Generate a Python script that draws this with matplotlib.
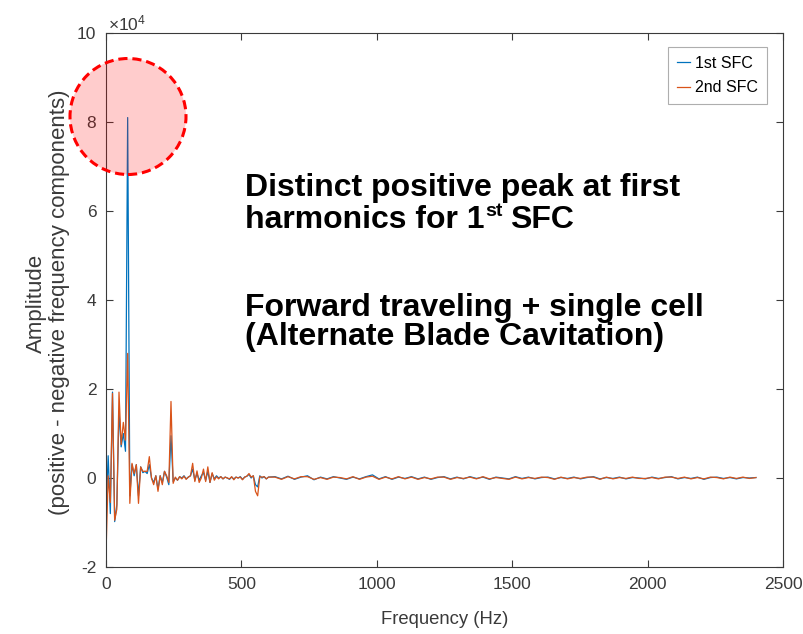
import numpy as np
import matplotlib
matplotlib.use("Agg")
import matplotlib.pyplot as plt
from matplotlib.patches import Circle

plt.rcParams['font.family'] = ['Liberation Sans', 'DejaVu Sans']
plt.rcParams['mathtext.fontset'] = 'custom'
plt.rcParams['mathtext.rm'] = 'Liberation Sans'

# ---- data (amplitude in units of 1e4) ----
low_step = 8      # Hz, low-frequency band 0..600 Hz
sfc1_low = [-0.75, 0.50, -0.80, 1.93, -0.98, -0.60, 1.50, 0.70, 1.00, 0.60,
            8.10, -0.40, 0.30, 0.05, 0.30, -0.40, 0.25, 0.12, 0.15, 0.10,
            0.30, 0.00, -0.10, 0.05, -0.25, 0.05, -0.10, 0.15, 0.02, -0.15,
            0.95, -0.08, 0.00, -0.05, 0.03, 0.00, 0.05, -0.02, 0.02, 0.05,
            0.20, -0.05, 0.10, -0.05, 0.05, 0.12, -0.05, 0.15, -0.10, 0.10,
            -0.02, 0.05, 0.00, 0.03, -0.02, 0.02, 0.00, -0.03, 0.02, -0.02,
            0.02, 0.00, 0.03, -0.03, 0.02, 0.04, 0.08, 0.00, 0.05, -0.15,
            -0.20, 0.05, 0.00, 0.03, -0.02, 0.02]
sfc2_low = [-1.70, 0.05, -0.55, 1.90, -0.95, -0.70, 1.93, 0.75, 1.25, 0.85,
            2.80, -0.57, 0.33, 0.10, 0.30, -0.57, 0.25, 0.15, 0.15, 0.15,
            0.48, 0.00, -0.15, 0.05, -0.30, 0.05, -0.15, 0.15, 0.05, -0.10,
            1.72, -0.12, 0.02, -0.05, 0.03, -0.02, 0.04, -0.03, 0.02, 0.05,
            0.33, -0.08, 0.16, -0.10, 0.00, 0.20, -0.08, 0.25, -0.10, 0.12,
            -0.05, 0.03, -0.02, 0.03, -0.02, 0.02, 0.00, -0.02, 0.03, -0.04,
            0.02, 0.00, 0.02, -0.04, 0.02, 0.04, 0.10, 0.02, 0.05, -0.30,
            -0.40, 0.03, 0.02, 0.03, -0.02, 0.02]

tail_start = 624  # Hz
tail_step = 24    # Hz, tail band up to 2400 Hz
sfc1_tail = [0.03, -0.02, 0.04, -0.03, 0.02, 0.05, -0.04, 0.02, -0.02, 0.03,
             0.00, -0.03, 0.02, -0.02, 0.03, 0.07, -0.02, 0.03, -0.03, 0.02,
             -0.01, 0.03, -0.02, 0.02, -0.03, 0.01, 0.03, -0.02, 0.02, -0.02,
             0.03, -0.01, 0.02, -0.03, 0.02, 0.00, -0.02, 0.03, -0.01, 0.02,
             -0.02, 0.01, 0.02, -0.02, 0.01, -0.01, 0.02, -0.02, 0.01, 0.03,
             -0.02, 0.01, -0.01, 0.02, -0.02, 0.01, 0.00, -0.02, 0.02, -0.01,
             0.01, 0.03, -0.02, 0.01, -0.01, 0.02, -0.03, 0.01, 0.02, -0.01,
             0.01, -0.02, 0.01, 0.00, 0.01]
sfc2_tail = [0.02, -0.03, 0.03, -0.02, 0.03, 0.03, -0.03, 0.01, -0.03, 0.02,
             0.01, -0.02, 0.03, -0.03, 0.02, 0.04, -0.03, 0.02, -0.02, 0.03,
             -0.02, 0.02, -0.03, 0.01, -0.02, 0.02, 0.02, -0.03, 0.01, -0.01,
             0.02, -0.02, 0.03, -0.02, 0.01, -0.01, -0.03, 0.02, -0.02, 0.01,
             -0.01, 0.02, 0.01, -0.03, 0.02, -0.02, 0.01, -0.01, 0.02, 0.02,
             -0.03, 0.02, -0.02, 0.01, -0.01, 0.02, -0.01, -0.01, 0.01, -0.02,
             0.02, 0.02, -0.01, 0.02, -0.02, 0.01, -0.02, 0.02, 0.01, -0.02,
             0.02, -0.01, 0.02, -0.01, 0.01]

x_ticks = [0, 500, 1000, 1500, 2000, 2500]
y_ticks = [-2, 0, 2, 4, 6, 8, 10]
series_labels = ['1st SFC', '2nd SFC']

freq = np.concatenate([np.arange(len(sfc1_low)) * low_step,
                       tail_start + np.arange(len(sfc1_tail)) * tail_step])
sfc1 = np.array(sfc1_low + sfc1_tail)
sfc2 = np.array(sfc2_low + sfc2_tail)

# ---- figure ----
W, H = 804, 634
L, R, T, B = 106, 783, 33, 567
fig = plt.figure(figsize=(W / 100, H / 100), dpi=100)
ax = fig.add_axes([L / W, 1 - B / H, (R - L) / W, (B - T) / H])

axis_col = '#3a3a3a'
ax.plot(freq, sfc1, color='#0072BD', lw=0.9, label=series_labels[0])
ax.plot(freq, sfc2, color='#D95319', lw=0.9, label=series_labels[1])

ax.set_xlim(0, 2500)
ax.set_ylim(-2, 10)
ax.set_xticks(x_ticks)
ax.set_yticks(y_ticks)
ax.set_xticklabels([str(t) for t in x_ticks])
ax.set_yticklabels([str(t) for t in y_ticks])
ax.tick_params(direction='in', length=5, width=0.8, colors=axis_col,
               labelsize=12.5, top=True, right=True, pad=7)
for s in ax.spines.values():
    s.set_color(axis_col)
    s.set_linewidth(0.8)

fig.text((L + R) / 2 / W, 1 - 619 / H, 'Frequency (Hz)', ha='center', va='center',
         fontsize=13.3, color=axis_col)
fig.text(36 / W, 1 - 303 / H, 'Amplitude', rotation=90, ha='center', va='center',
         fontsize=16, color=axis_col)
fig.text(60 / W, 1 - 302 / H, '(positive - negative frequency components)', rotation=90,
         ha='center', va='center', fontsize=16, color=axis_col)

# exponent label
fig.text(108 / W, 1 - 30 / H, r'$\times\mathregular{10^{4}}$', fontsize=12.5,
         color=axis_col, ha='left', va='baseline')

leg = ax.legend(loc='upper right', bbox_to_anchor=((767 - L) / (R - L), (B - 47) / (B - T)),
                fontsize=11.5, frameon=True, fancybox=False, handlelength=0.8,
                handletextpad=0.35, borderpad=0.55, labelspacing=0.6, borderaxespad=0)
leg.get_frame().set_edgecolor('#9a9a9a')
leg.get_frame().set_linewidth(0.8)

# red highlight circle (in figure pixel coordinates)
circ = Circle((128, H - 116.5), 58, transform=None, facecolor=(1, 0, 0, 0.2),
              edgecolor='red', lw=2.2, ls=(0, (3, 1.6)), zorder=10)
fig.patches.append(circ)

# annotation text
txt_kw = dict(fontsize=23, fontweight='bold', color='black', ha='left', va='baseline')
fig.text(245 / W, 1 - 196 / H, 'Distinct positive peak at first', **txt_kw)
t2 = fig.text(245 / W, 1 - 228 / H, 'harmonics for 1', **txt_kw)
fig.text(245 / W, 1 - 316 / H, 'Forward traveling + single cell', **txt_kw)
fig.text(245 / W, 1 - 345 / H, '(Alternate Blade Cavitation)', **txt_kw)

fig.canvas.draw()
bb = t2.get_window_extent()
t3 = fig.text((bb.x1 + 1) / W, 1 - 216 / H, 'st', fontsize=14, fontweight='bold',
              color='black', ha='left', va='baseline')
fig.canvas.draw()
bb3 = t3.get_window_extent()
fig.text((bb3.x1 + 7) / W, 1 - 228 / H, 'SFC', **txt_kw)

fig.savefig('out.png', dpi=100)
